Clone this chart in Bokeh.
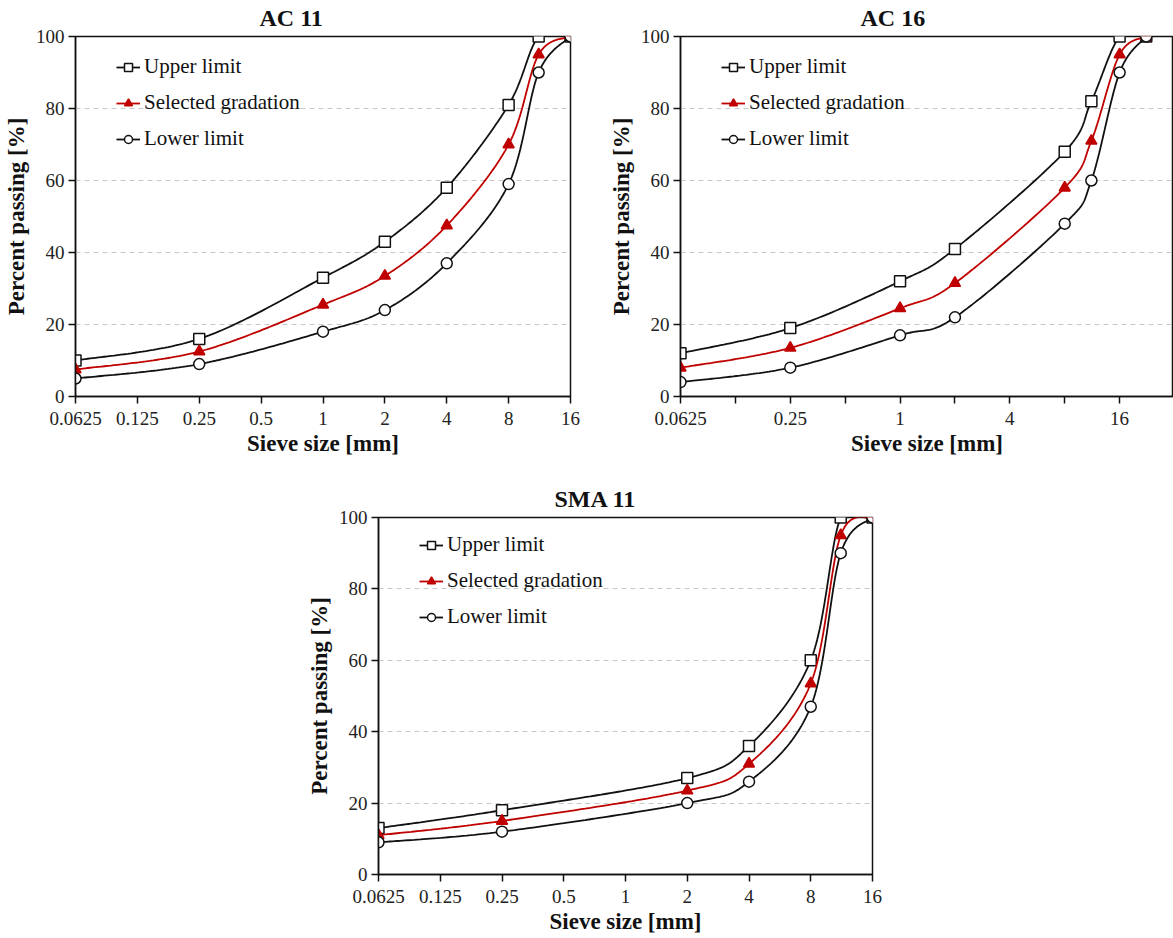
import numpy as np
from bokeh.plotting import figure
from bokeh.models import (Range1d, FixedTicker, CustomJSTickFormatter, Legend, LegendItem, Title, Spacer)
from bokeh.layouts import column, row
from bokeh.embed import file_html
from bokeh.resources import INLINE

# ---------------- data ----------------
ac11_sieve = [0.0625, 0.25, 1, 2, 4, 8, 11.2, 16]
ac11_upper = [10, 16, 33, 43, 58, 81, 100, 100]
ac11_selected = [7.5, 12.5, 25.5, 33.5, 47.5, 70, 95, 100]
ac11_lower = [5, 9, 18, 24, 37, 59, 90, 100]

ac16_sieve = [0.0625, 0.25, 1, 2, 8, 11.2, 16, 22.4]
ac16_upper = [12, 19, 32, 41, 68, 82, 100, 100]
ac16_selected = [8, 13.5, 24.5, 31.5, 58, 71, 95, 100]
ac16_lower = [4, 8, 17, 22, 48, 60, 90, 100]

sma11_sieve = [0.0625, 0.25, 2, 4, 8, 11.2, 16]
sma11_upper = [13, 18, 27, 36, 60, 100, 100]
sma11_selected = [11, 15, 23.5, 31, 53.5, 95, 100]
sma11_lower = [9, 12, 20, 26, 47, 90, 100]

ticks_full = [0.0625, 0.125, 0.25, 0.5, 1, 2, 4, 8, 16]
ticks_ac16_major = [0.0625, 0.25, 1, 4, 16]
ticks_ac16_minor = [0.125, 0.5, 2, 8, 32]
y_ticks = [0, 20, 40, 60, 80, 100]

series_names = ["Upper limit", "Selected gradation", "Lower limit"]

FONT = "Liberation Serif"
BLACK = "#111111"
RED = "#c00000"


def smooth(xs, ys, n=40):
    """Catmull-Rom (Excel-like) smoothing in log2(x) space."""
    u = np.log2(np.asarray(xs, float))
    y = np.asarray(ys, float)
    P = np.column_stack([u, y])
    P = np.vstack([P[0], P, P[-1]])
    out = []
    t = np.linspace(0, 1, n)
    for i in range(1, len(P) - 2):
        p0, p1, p2, p3 = P[i - 1], P[i], P[i + 1], P[i + 2]
        b0 = p1
        b1 = p1 + (p2 - p0) / 6.0
        b2 = p2 - (p3 - p1) / 6.0
        b3 = p2
        seg = (np.outer((1 - t) ** 3, b0) + np.outer(3 * (1 - t) ** 2 * t, b1)
               + np.outer(3 * (1 - t) * t ** 2, b2) + np.outer(t ** 3, b3))
        out.append(seg if i == 1 else seg[1:])
    S = np.vstack(out)
    return 2 ** S[:, 0], S[:, 1]


def make_panel(title, sieve, upper, selected, lower, width, height, x_end,
               major, minor, title_offset, border_right):
    p = figure(width=width, height=height, x_axis_type="log",
               x_range=Range1d(0.0625, x_end), y_range=Range1d(0, 100),
               output_backend="svg", toolbar_location=None,
               min_border_left=74, min_border_right=border_right,
               min_border_top=36, min_border_bottom=height - 36 - 360)
    p.title = Title(text=title, align="left", offset=title_offset,
                    vertical_align="top",
                    text_font=FONT, text_font_size="24px",
                    text_font_style="bold", text_color=BLACK, standoff=8)
    p.background_fill_color = "white"
    p.border_fill_color = "white"
    p.outline_line_color = BLACK
    p.outline_line_width = 1.5

    p.xaxis.ticker = FixedTicker(ticks=major, minor_ticks=minor)
    p.xaxis.formatter = CustomJSTickFormatter(code="return tick.toString();")
    p.yaxis.ticker = FixedTicker(ticks=y_ticks)
    for ax in (p.xaxis[0], p.yaxis[0]):
        ax.axis_line_color = BLACK
        ax.axis_line_width = 1.5
        ax.major_tick_line_color = BLACK
        ax.major_tick_line_width = 1.5
        ax.minor_tick_line_color = BLACK
        ax.minor_tick_line_width = 1.5
        ax.major_tick_in = 0
        ax.major_tick_out = 7
        ax.minor_tick_in = 0
        ax.minor_tick_out = 7
        ax.major_label_text_font = FONT
        ax.major_label_text_font_size = "19px"
        ax.major_label_text_color = "#222222"
        ax.axis_label_text_font = FONT
        ax.axis_label_text_font_size = "23px"
        ax.axis_label_text_font_style = "bold"
        ax.axis_label_text_color = BLACK
    p.xaxis.axis_label = "Sieve size [mm]"
    p.yaxis.axis_label = "Percent passing [%]"
    p.xaxis.major_label_standoff = 8
    p.xaxis.axis_label_standoff = 3
    p.yaxis.major_label_standoff = 4
    p.yaxis.axis_label_standoff = 4
    p.yaxis.minor_tick_out = 0

    p.xgrid.visible = False
    p.ygrid.grid_line_color = "#c8c8c8"
    p.ygrid.grid_line_dash = "5 4"
    p.ygrid.grid_line_width = 1

    items = []
    specs = [(upper, BLACK, "square", "white"),
             (selected, RED, "triangle", RED),
             (lower, BLACK, "circle", "white")]
    for name, (vals, col, mk, fill) in zip(series_names, specs):
        sx, sy = smooth(sieve, vals)
        lr = p.line(sx, sy, line_color=col, line_width=1.8)
        sr = p.scatter(sieve, vals, marker=mk, size=11, line_color=col,
                       fill_color=fill, line_width=1.5)
        items.append(LegendItem(label=name, renderers=[lr, sr]))

    leg = Legend(items=items, location=(31, 235))
    leg.label_text_font = FONT
    leg.label_text_font_size = "21px"
    leg.label_text_color = BLACK
    leg.glyph_width = 24
    leg.glyph_height = 20
    leg.label_height = 20
    leg.spacing = 11
    leg.label_standoff = 4
    leg.padding = 10
    leg.margin = 0
    leg.border_line_alpha = 0
    leg.background_fill_alpha = 0
    p.add_layout(leg)
    return p


p1 = make_panel("AC 11", ac11_sieve, ac11_upper, ac11_selected, ac11_lower,
                605, 481, 16, ticks_full, [], 184, 35)
p2 = make_panel("AC 16", ac16_sieve, ac16_upper, ac16_selected, ac16_lower,
                568, 481, 0.0625 * 2 ** (494 / 55.0), ticks_ac16_major, ticks_ac16_minor, 180, 0)
p3 = make_panel("SMA 11", sma11_sieve, sma11_upper, sma11_selected, sma11_lower,
                604, 455, 16, ticks_full, [], 176, 35)

layout = column(row(p1, p2), row(Spacer(width=303, height=10), p3))

open("out.html", "w").write(file_html(layout, INLINE))
